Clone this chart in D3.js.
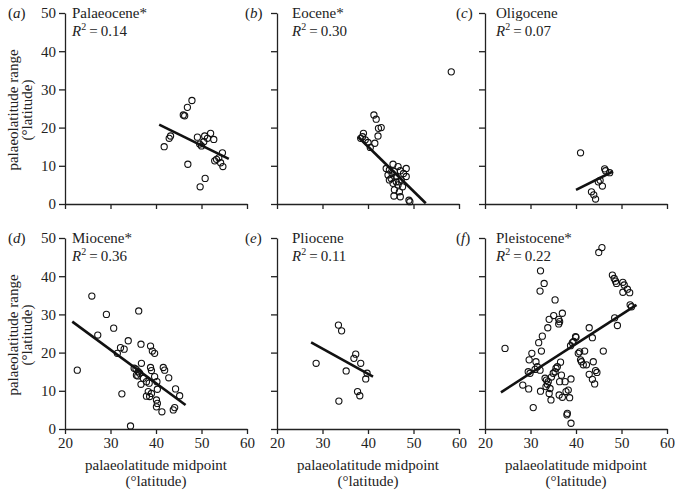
<!DOCTYPE html>
<html lang="en">
  <head>
    <meta charset="utf-8">
    <title>palaeolatitude range vs midpoint</title>
    <script src="https://d3js.org/d3.v7.min.js"></script>
    <style media="screen">
      body { margin: 0; background: #fff; }
      svg text { font-family: "Times New Roman", "Liberation Serif", Times, "DejaVu Serif", serif !important; fill: #222; }
    </style>
  </head>
  <body>
    <div id="chart"></div>
    <script type="text/javascript">
      // panel titles, fit statistics and letters
      let epochs = ["Palaeocene*", "Eocene*", "Oligocene", "Miocene*", "Pliocene", "Pleistocene*"];
      let r2 = ["0.14", "0.30", "0.07", "0.36", "0.11", "0.22"];
      let letters = ["a", "b", "c", "d", "e", "f"];
      let xTicks = [20, 30, 40, 50, 60];
      let yTicks = [0, 10, 20, 30, 40, 50];

      // points (midpoint, range)
      let palaeoceneX = [41.8, 42.9, 43.2, 46.0, 46.3, 46.9, 47.9, 47.0, 49.1, 49.6, 50.5, 50.7, 51.3, 52.0, 52.7, 50.8, 49.7, 52.9, 53.3, 53.8, 54.6, 54.7, 54.2, 50.0];
      let palaeoceneY = [15.0, 17.2, 17.8, 23.3, 23.1, 25.3, 27.1, 10.4, 17.5, 15.7, 16.3, 17.8, 17.2, 18.5, 16.9, 6.7, 4.5, 11.3, 11.7, 12.1, 13.4, 9.8, 10.8, 15.2];

      let eoceneX = [58.3, 41.3, 41.8, 42.3, 42.9, 42.2, 39.0, 38.8, 39.4, 40.0, 40.5, 41.5, 38.4, 45.5, 46.6, 44.7, 45.8, 47.1, 48.4, 44.4, 45.1, 46.2, 47.3, 48.4, 45.5, 46.6, 47.6, 45.8, 46.9, 45.7, 49.0, 49.2, 44.7, 44.0, 47.8, 46.8, 45.3, 46.2, 47.1];
      let eoceneY = [34.6, 23.3, 22.2, 19.8, 20.0, 17.8, 18.5, 17.6, 16.8, 16.1, 14.8, 15.9, 17.2, 10.4, 9.8, 8.9, 8.5, 8.7, 9.3, 7.6, 6.7, 7.2, 6.3, 7.2, 5.4, 5.0, 4.5, 3.7, 3.2, 2.1, 1.0, 0.6, 6.3, 9.3, 8.0, 5.8, 8.0, 5.8, 1.9];

      let oligoceneX = [41.0, 46.3, 46.5, 47.4, 44.9, 45.8, 43.4, 43.9, 44.3, 45.3];
      let oligoceneY = [13.4, 9.2, 8.7, 8.2, 5.8, 4.7, 3.2, 2.4, 1.3, 6.2];

      let mioceneX = [25.9, 29.1, 36.2, 27.2, 30.7, 33.9, 32.2, 33.0, 31.5, 36.7, 38.8, 39.2, 39.7, 22.7, 32.5, 34.4, 35.6, 36.1, 35.7, 36.4, 36.8, 37.2, 36.7, 37.9, 38.8, 39.0, 39.7, 40.2, 41.6, 41.9, 42.8, 40.3, 38.3, 39.0, 37.9, 38.6, 40.1, 40.3, 40.1, 41.3, 43.8, 44.1, 44.3, 45.2, 35.2, 36.0, 38.5];
      let mioceneY = [34.8, 30.0, 30.9, 24.6, 26.4, 23.1, 21.3, 20.9, 19.8, 22.2, 21.7, 20.4, 19.8, 15.4, 9.2, 0.8, 15.7, 15.0, 14.1, 14.6, 17.2, 13.3, 11.7, 12.4, 16.1, 15.3, 13.7, 12.4, 16.1, 15.4, 13.4, 10.4, 9.8, 9.3, 8.6, 8.5, 7.6, 6.7, 5.8, 4.5, 5.0, 5.6, 10.5, 8.7, 15.9, 13.9, 12.0];

      let plioceneX = [33.5, 34.2, 28.6, 35.2, 37.3, 36.9, 38.4, 39.8, 39.5, 37.7, 38.2, 33.6];
      let plioceneY = [27.2, 25.7, 17.2, 15.2, 19.6, 18.5, 17.2, 14.6, 13.1, 9.8, 8.7, 7.3];

      let pleistoceneX = [24.4, 28.3, 29.6, 30.6, 29.7, 30.3, 29.5, 29.9, 31.2, 31.5, 32.1, 32.4, 31.8, 32.6, 33.8, 34.1, 32.2, 33.0, 32.1, 35.4, 35.1, 36.2, 36.4, 36.2, 37.0, 32.2, 33.2, 33.5, 33.9, 33.7, 33.4, 34.3, 34.1, 34.5, 35.0, 35.4, 35.6, 35.9, 36.6, 36.8, 36.4, 36.3, 37.0, 37.8, 38.3, 38.6, 38.1, 38.0, 38.9, 38.9, 37.6, 38.8, 39.2, 39.5, 39.9, 40.5, 40.8, 41.0, 41.2, 41.6, 41.9, 42.3, 42.9, 43.6, 43.8, 44.3, 44.6, 42.9, 43.6, 44.1, 46.0, 45.0, 45.7, 48.0, 48.4, 48.7, 48.9, 50.3, 50.6, 50.3, 51.3, 51.8, 51.9, 52.2, 48.5, 49.1, 40.0, 34.6, 31.0];
      let pleistoceneY = [21.1, 11.5, 10.5, 5.6, 18.1, 19.8, 15.0, 14.6, 17.6, 16.3, 15.4, 20.4, 22.6, 24.3, 26.5, 28.7, 41.4, 38.1, 36.1, 33.8, 29.7, 28.7, 28.1, 27.5, 30.3, 9.9, 13.3, 12.8, 12.4, 11.7, 11.1, 10.6, 9.3, 7.6, 14.6, 15.0, 15.9, 16.3, 17.5, 14.1, 12.4, 8.9, 8.3, 9.8, 10.2, 8.2, 4.1, 3.7, 1.5, 13.1, 12.4, 21.8, 22.6, 22.9, 24.2, 19.8, 20.2, 18.1, 17.6, 16.8, 20.4, 16.8, 26.5, 23.9, 17.6, 15.3, 14.8, 14.3, 13.0, 11.8, 20.4, 46.2, 47.5, 40.3, 39.4, 38.7, 38.1, 38.4, 37.7, 35.8, 36.6, 35.7, 32.5, 32.0, 29.1, 27.1, 24.0, 13.6, 15.6];

      // regression line end points [x, y]
      let palaeoceneFit = [[40.7, 20.8], [56.0, 11.8]];
      let eoceneFit = [[37.8, 17.6], [52.7, 0.2]];
      let oligoceneFit = [[40.0, 3.7], [48.1, 8.5]];
      let mioceneFit = [[21.6, 28.1], [46.5, 6.3]];
      let plioceneFit = [[27.5, 22.7], [41.1, 13.7]];
      let pleistoceneFit = [[23.5, 9.6], [53.3, 32.5]];

      let allX = [palaeoceneX, eoceneX, oligoceneX, mioceneX, plioceneX, pleistoceneX];
      let allY = [palaeoceneY, eoceneY, oligoceneY, mioceneY, plioceneY, pleistoceneY];
      let allFit = [palaeoceneFit, eoceneFit, oligoceneFit, mioceneFit, plioceneFit, pleistoceneFit];

      // layout
      let w = 675, h = 491;
      let colLeft = [65, 277, 485];
      let rowTop = [13, 238];
      let pw = 182, ph = 191;
      let titleOffset = [7, 15, 11];
      let letterX = [8, 245, 456];
      let serif = "'Times New Roman', 'Liberation Serif', Times, 'DejaVu Serif', serif";

      let svg = d3.select("#chart").append("svg")
                  .attr("width", w)
                  .attr("height", h);

      let xScale = d3.scaleLinear().domain([20, 60]).range([0, pw]);
      let yScale = d3.scaleLinear().domain([0, 50]).range([ph, 0]);

      epochs.forEach(function(name, i) {
        let col = i % 3, row = Math.floor(i / 3);
        let g = svg.append("g")
                   .attr("transform", "translate(" + colLeft[col] + "," + rowTop[row] + ")");

        // y axis
        let yAxis = d3.axisLeft(yScale).tickValues(yTicks).tickSize(6).tickSizeOuter(0).tickPadding(3);
        if (col > 0) yAxis.tickFormat("");
        let ya = g.append("g").call(yAxis);

        // x axis
        let xAxis = d3.axisBottom(xScale).tickValues(xTicks).tickSize(5).tickSizeOuter(0).tickPadding(3);
        if (row == 0) xAxis.tickFormat("");
        let xa = g.append("g").attr("transform", "translate(0," + ph + ")").call(xAxis);

        [ya, xa].forEach(function(a) {
          a.attr("font-family", serif);
          a.selectAll("path, line").attr("stroke", "#222").attr("stroke-width", 1.3);
          a.selectAll("text")
           .attr("font-size", "15px")
           .attr("fill", "#222");
        });

        // points
        let pts = allX[i].map(function(x, j) { return [x, allY[i][j]]; });
        g.selectAll("circle")
         .data(pts)
         .enter()
         .append("circle")
         .attr("cx", d => xScale(d[0]))
         .attr("cy", d => yScale(d[1]))
         .attr("r", 3.1)
         .attr("fill", "none")
         .attr("stroke", "#111")
         .attr("stroke-width", 1.1);

        // fitted line
        g.append("path")
         .datum(allFit[i])
         .attr("d", d3.line().x(d => xScale(d[0])).y(d => yScale(d[1])))
         .attr("stroke", "#111")
         .attr("stroke-width", 2.6)
         .attr("fill", "none");

        // title and R2
        g.append("text")
         .attr("x", titleOffset[col])
         .attr("y", 5)
         .attr("font-size", "15px")
         .text(name);
        let rt = g.append("text")
                  .attr("x", titleOffset[col])
                  .attr("y", 23)
                  .attr("font-size", "15px");
        rt.append("tspan").attr("font-style", "italic").text("R");
        rt.append("tspan").attr("font-size", "10px").attr("dy", -6).text("2");
        rt.append("tspan").attr("dy", 6).text("\u2009=\u20090" + r2[i].slice(1));

        // panel letter
        let lt = svg.append("text")
                    .attr("x", letterX[col])
                    .attr("y", rowTop[row] + 5)
                    .attr("font-size", "15px");
        lt.append("tspan").text("(");
        lt.append("tspan").attr("font-style", "italic").text(letters[i]);
        lt.append("tspan").text(")");

        // y title on the left column
        if (col == 0) {
          let cy = rowTop[row] + 97;
          svg.append("text")
             .attr("transform", "translate(18," + cy + ") rotate(-90)")
             .attr("text-anchor", "middle")
             .attr("font-size", "15px")
             .text("palaeolatitude range");
          svg.append("text")
             .attr("transform", "translate(32," + cy + ") rotate(-90)")
             .attr("text-anchor", "middle")
             .attr("font-size", "15px")
             .text("(\u00B0latitude)");
        }

        // x title on the bottom row
        if (row == 1) {
          g.append("text")
           .attr("x", pw / 2)
           .attr("y", ph + 41)
           .attr("text-anchor", "middle")
           .attr("font-size", "15px")
           .text("palaeolatitude midpoint");
          g.append("text")
           .attr("x", pw / 2)
           .attr("y", ph + 57)
           .attr("text-anchor", "middle")
           .attr("font-size", "15px")
           .text("(\u00B0latitude)");
        }
      });
    </script>
  </body>
</html>
